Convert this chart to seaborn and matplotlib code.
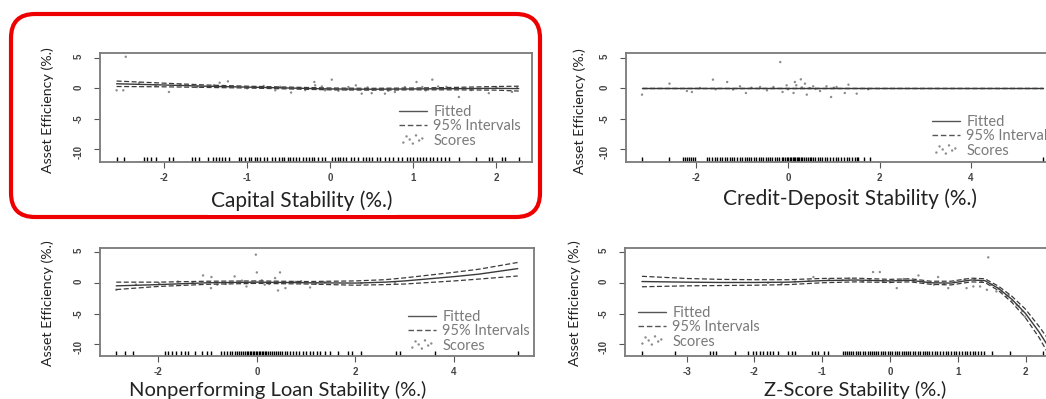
import matplotlib
matplotlib.use("Agg")
import matplotlib.pyplot as plt
import matplotlib.transforms as mtrans
from matplotlib.patches import FancyBboxPatch
from matplotlib.lines import Line2D
import seaborn as sns

# ---- data ----
# Capital Stability
cap_x = [-2.57, -2.0, -1.5, -1.0, -0.5, 0.0, 0.5, 1.0, 1.5, 2.0, 2.27]
cap_fit = [0.75, 0.55, 0.35, 0.2, 0.05, -0.1, -0.15, -0.1, -0.05, 0.0, -0.05]
cap_hi = [1.2, 0.85, 0.55, 0.35, 0.2, 0.05, 0.0, 0.05, 0.15, 0.3, 0.35]
cap_lo = [0.3, 0.25, 0.15, 0.05, -0.1, -0.25, -0.3, -0.25, -0.25, -0.3, -0.45]
cap_sx = [-2.46, -2.57, -2.49, -1.94, -1.33, -1.23, -0.66, -0.47, -0.19, -0.18, 0.02, -0.06,
          0.22, 0.31, 0.38, 0.50, 0.66, 0.78, 1.04, 1.23, 1.11, 1.55, 1.91, 2.19, 1.30,
          -2.3, -2.1, -1.8, -1.6, -1.4, -1.0, -0.8, -0.6, -0.3, -0.1, 0.1, 0.2, 0.45, 0.7,
          0.9, 1.15, 1.4, 1.7, 2.0, 2.25]
cap_sy = [5.2, -0.33, -0.33, -0.6, 0.93, 1.15, -0.33, -0.7, 1.04, 0.49, 1.43, -0.33,
          0.22, 0.49, -0.88, -0.8, -0.88, -0.6, 1.04, 1.43, 0.22, -1.43, -0.8, -0.6, 0.3,
          0.9, 0.4, 0.6, 0.2, 0.5, 0.0, 0.4, 0.25, -0.3, 0.3, -0.4, -0.2, 0.15, -0.4,
          0.2, -0.35, 0.25, -0.3, 0.2, 0.1]
cap_rug = [-2.57, -2.48, -2.24, -2.20, -2.16, -2.09, -1.94, -1.89, -1.66, -1.63, -1.58, -1.47,
           -1.41, -1.37, -1.34, -1.30, -1.27, -1.22, -1.10, -1.07, -1.03, -0.98, -0.95, -0.91,
           -0.88, -0.84, -0.79, -0.76, -0.70, -0.66, -0.62, -0.58, -0.55, -0.51, -0.48, -0.45,
           -0.41, -0.37, -0.33, -0.29, -0.25, -0.22, -0.19, -0.14, -0.10, -0.06, 0.02, 0.06,
           0.09, 0.12, 0.16, 0.19, 0.25, 0.29, 0.34, 0.39, 0.43, 0.47, 0.50, 0.56, 0.60, 0.66,
           0.71, 0.76, 0.82, 0.86, 0.92, 0.96, 1.00, 1.04, 1.08, 1.12, 1.16, 1.20, 1.24, 1.29,
           1.34, 1.38, 1.43, 1.55, 1.75, 1.91, 1.95, 2.07, 2.11, 2.27]

# Credit-Deposit Stability
cd_x = [-3.19, 5.57]
cd_fit = [0.0, 0.0]
cd_hi = [0.0, 0.0]
cd_lo = [0.0, 0.0]
cd_sx = [-3.19, -2.59, -1.64, -1.33, -0.17, 0.28, 0.15, 0.37, 0.94, 1.32, 1.50, -0.92, -2.21,
         -2.10, -0.12, 0.12, 0.41, 0.70, 1.24, 1.75, -1.05, -0.61, -0.32, -0.03, 0.18, 0.55,
         0.84, 1.06, -1.92, -1.58, -0.46, 0.47, -1.2, -0.8, 0.0, 0.3, 0.6, 1.0]
cd_sy = [-1.04, 0.77, 1.43, 1.04, 4.33, 1.48, 1.04, 0.77, -1.43, 0.6, -0.88, -0.77, -0.44,
         -0.6, -0.6, -0.77, -1.04, -0.44, -0.77, -0.16, 0.33, 0.22, 0.22, 0.49, 0.5, 0.33,
         0.33, 0.22, 0.05, -0.16, -0.33, 0.05, -0.2, 0.1, -0.15, 0.15, -0.1, 0.1]
cd_rug = [-3.19, -2.60, -2.30, -2.26, -2.21, -2.17, -2.12, -2.08, -2.03, -1.78, -1.72, -1.66,
          -1.60, -1.55, -1.49, -1.44, -1.38, -1.33, -1.27, -1.22, -1.17, -1.11, -1.06, -1.00,
          -0.95, -0.90, -0.85, -0.80, -0.75, -0.70, -0.64, -0.59, -0.54, -0.49, -0.44, -0.39,
          -0.34, -0.29, -0.24, -0.19, -0.14, -0.10, -0.06, -0.02, 0.01, 0.04, 0.07, 0.10, 0.13,
          0.16, 0.19, 0.22, 0.25, 0.28, 0.31, 0.35, 0.39, 0.43, 0.47, 0.51, 0.55, 0.60, 0.65,
          0.70, 0.75, 0.80, 0.86, 0.92, 0.98, 1.04, 1.10, 1.16, 1.22, 1.28, 1.34, 1.40, 1.46,
          1.50, 1.53, 1.66, 1.79, 5.57]

# Nonperforming Loan Stability
npl_x = [-2.85, -2.0, -1.0, 0.0, 1.0, 2.0, 2.6, 3.0, 3.5, 4.0, 4.5, 5.29]
npl_fit = [-0.5, -0.3, 0.0, 0.1, 0.0, -0.05, 0.1, 0.3, 0.65, 1.0, 1.4, 2.3]
npl_hi = [0.1, 0.1, 0.25, 0.3, 0.2, 0.3, 0.5, 0.8, 1.25, 1.7, 2.2, 3.3]
npl_lo = [-1.1, -0.6, -0.25, -0.1, -0.2, -0.4, -0.3, -0.2, 0.05, 0.3, 0.6, 1.1]
npl_sx = [-0.02, 0.0, -1.09, -0.92, -0.45, 0.47, 0.37, -0.93, -0.21, 0.43, 0.58, 1.08, -2.85,
          0.1, -0.12, 0.16, -0.63, 0.78, -1.3, -1.98, -2.45, 1.38, 2.12, 2.8, -1.6, -0.8,
          -0.3, 0.25, 0.9, 1.2]
npl_sy = [4.57, 1.68, 1.19, 0.93, 1.03, 1.68, 0.76, -0.87, -0.6, -1.25, -0.87, -0.76, -1.14,
          0.4, 0.0, -0.3, -0.2, 0.15, 0.0, -0.1, -0.3, 0.1, -0.1, 0.0, 0.2, -0.3, 0.35,
          -0.2, 0.25, -0.15]
npl_rug = [-2.85, -2.68, -2.51, -1.87, -1.80, -1.73, -1.63, -1.53, -1.46, -1.39, -1.26, -1.12,
           -1.02, -0.92, -0.72, -0.66, -0.60, -0.55, -0.50, -0.45, -0.40, -0.36, -0.32, -0.28,
           -0.24, -0.20, -0.17, -0.14, -0.11, -0.08, -0.05, -0.02, 0.01, 0.04, 0.07, 0.10,
           0.13, 0.16, 0.19, 0.23, 0.27, 0.31, 0.35, 0.39, 0.43, 0.47, 0.52, 0.57, 0.62, 0.68,
           0.74, 0.80, 0.86, 0.93, 1.00, 1.07, 1.14, 1.21, 1.28, 1.38, 1.48, 1.65, 1.85, 1.92,
           2.12, 2.83, 2.90, 3.61, 5.30]

# Z-Score Stability
zs_x = [-3.66, -3.0, -2.5, -2.0, -1.5, -1.0, -0.5, 0.0, 0.3, 0.6, 0.9, 1.2, 1.4, 1.6, 1.8,
        2.0, 2.2, 2.35]
zs_fit = [0.2, 0.1, 0.05, 0.05, 0.1, 0.35, 0.45, 0.3, 0.4, 0.0, -0.05, 0.45, 0.35, -0.9,
          -2.7, -5.0, -8.0, -10.6]
zs_hi = [1.05, 0.7, 0.55, 0.5, 0.5, 0.7, 0.75, 0.55, 0.65, 0.25, 0.25, 0.75, 0.65, -0.55,
         -2.2, -4.3, -7.1, -9.4]
zs_lo = [-0.65, -0.5, -0.45, -0.4, -0.3, 0.0, 0.15, 0.05, 0.15, -0.25, -0.35, 0.15, 0.05,
         -1.25, -3.2, -5.7, -8.9, -11.8]
zs_sx = [1.45, -0.25, -0.15, -1.13, 0.42, 0.71, 0.10, 0.86, 1.13, 1.23, 1.33, 1.43, 1.57,
         1.72, 1.87, 1.99, -1.8, -1.6, -1.4, -1.2, -0.9, -0.7, -0.6, -0.4, -0.3, -0.1, 0.0,
         0.2, 0.35, 0.5, 0.65, 0.8, 0.95, 1.1, 1.25, 1.35, 1.5, 1.6, 1.65, 1.75, 1.8, 1.9, 1.95]
zs_sy = [4.13, 1.74, 1.74, 0.93, 1.19, 0.93, -0.87, -0.87, -0.87, -0.6, -0.6, -1.14, -1.4,
         -2.2, -3.6, -5.5, 0.0, -0.2, 0.2, 0.3, 0.6, 0.4, 0.7, 0.2, 0.5, 0.3, 0.1, 0.6, 0.3,
         0.1, -0.3, -0.2, 0.1, 0.5, 0.6, 0.2, -0.3, -1.0, -1.4, -2.0, -2.9, -3.8, -4.6]
zs_rug = [-3.66, -3.17, -2.65, -2.61, -2.56, -2.29, -2.09, -2.02, -1.97, -1.92, -1.87, -1.82,
          -1.77, -1.72, -1.65, -1.50, -1.45, -1.40, -1.15, -1.11, -1.06, -0.97, -0.91, -0.69,
          -0.66, -0.63, -0.60, -0.57, -0.54, -0.50, -0.47, -0.44, -0.40, -0.37, -0.33, -0.30,
          -0.27, -0.23, -0.20, -0.17, -0.13, -0.10, -0.07, -0.03, 0.00, 0.03, 0.07, 0.10, 0.13,
          0.17, 0.20, 0.23, 0.27, 0.30, 0.34, 0.37, 0.41, 0.44, 0.48, 0.51, 0.55, 0.58, 0.62,
          0.66, 0.70, 0.74, 0.78, 0.82, 0.86, 0.90, 0.94, 0.98, 1.02, 1.06, 1.10, 1.14, 1.18,
          1.22, 1.26, 1.30, 1.34, 1.38, 1.50, 1.77, 2.26]

y_ticks = [-10, -5, 0, 5]
legend_labels = ["Fitted", "95% Intervals", "Scores"]
y_label = "Asset Efficiency (%.)"

sns.set_theme(style="white")
plt.rcParams["font.family"] = ["Lato", "DejaVu Sans"]
plt.rcParams["axes.unicode_minus"] = False

W, H = 1046, 399
fig = plt.figure(figsize=(W / 100, H / 100), dpi=100)

# panel boxes in pixels: left, top, right, bottom; xl = label centre x, baseline y
panels = [
    dict(box=(100, 53, 532, 162), xlim=(-2.77, 2.43), ylim=(-12.14, 5.82),
         xticks=[-2, -1, 0, 1, 2], x=cap_x, fit=cap_fit, hi=cap_hi, lo=cap_lo,
         sx=cap_sx, sy=cap_sy, rug=cap_rug, xlabel="Capital Stability (%.)",
         xl=(302, 207), xfs=15, yl=(48, 110), leg=(399, 105)),
    dict(box=(626, 53, 1059, 162), xlim=(-3.54, 5.92), ylim=(-12.14, 5.82),
         xticks=[-2, 0, 2, 4], x=cd_x, fit=cd_fit, hi=cd_hi, lo=cd_lo,
         sx=cd_sx, sy=cd_sy, rug=cd_rug, xlabel="Credit-Deposit Stability (%.)",
         xl=(850, 205), xfs=15, yl=(580, 111), leg=(932, 115)),
    dict(box=(100, 248, 534, 356), xlim=(-3.18, 5.62), ylim=(-11.9, 5.65),
         xticks=[-2, 0, 2, 4], x=npl_x, fit=npl_fit, hi=npl_hi, lo=npl_lo,
         sx=npl_sx, sy=npl_sy, rug=npl_rug, xlabel="Nonperforming Loan Stability (%.)",
         xl=(278, 396), xfs=14.5, yl=(48, 303), leg=(408, 310)),
    dict(box=(625, 248, 1075, 356), xlim=(-3.91, 2.73), ylim=(-11.9, 5.65),
         xticks=[-3, -2, -1, 0, 1, 2], x=zs_x, fit=zs_fit, hi=zs_hi, lo=zs_lo,
         sx=zs_sx, sy=zs_sy, rug=zs_rug, xlabel="Z-Score Stability (%.)",
         xl=(855, 396), xfs=14.5, yl=(575, 303), leg=(638, 306)),
]

line_col = "#3a3a3a"
dash = (0, (4, 2))

for i, p in enumerate(panels):
    l, t, r, b = p["box"]
    ax = fig.add_axes([l / W, 1 - b / H, (r - l) / W, (b - t) / H])
    ax.set_xlim(*p["xlim"])
    ax.set_ylim(*p["ylim"])

    sns.scatterplot(x=p["sx"], y=p["sy"], ax=ax, s=3, color="#8c8c8c",
                    edgecolor="none", zorder=2)
    score_handle = ax.collections[-1]
    sns.lineplot(x=p["x"], y=p["hi"], ax=ax, estimator=None, color=line_col,
                 lw=0.9, linestyle=dash, zorder=3)
    sns.lineplot(x=p["x"], y=p["lo"], ax=ax, estimator=None, color=line_col,
                 lw=0.9, linestyle=dash, zorder=3)
    sns.lineplot(x=p["x"], y=p["fit"], ax=ax, estimator=None, color=line_col,
                 lw=1.0, zorder=4)
    sns.rugplot(x=p["rug"], ax=ax, height=0.045, color="black", lw=0.9)

    ax.set_xticks(p["xticks"])
    ax.set_xticklabels([str(v) for v in p["xticks"]])
    ax.set_yticks(y_ticks)
    ax.set_yticklabels([str(v) for v in y_ticks])
    ax.tick_params(axis="both", which="major", length=4, width=0.8, color="#555",
                   labelsize=7, labelcolor="#444", bottom=True, left=True)
    ax.tick_params(axis="x", pad=4)
    ax.tick_params(axis="y", labelrotation=90, pad=8)
    for lab in ax.get_xticklabels() + ax.get_yticklabels():
        lab.set_fontweight("bold")
        lab.set_family(["Liberation Sans", "DejaVu Sans"])
    for sp in ax.spines.values():
        sp.set_color("#7a7a7a")
        sp.set_linewidth(1.3)
    ax.set_xlabel("")
    ax.set_ylabel("")

    handles = [Line2D([], [], color="#555", lw=1.0),
               Line2D([], [], color="#555", lw=1.0, linestyle=dash),
               score_handle]
    lx, ly = p["leg"]
    ax.legend(handles=handles, labels=legend_labels, loc="upper left",
              bbox_to_anchor=(lx / W, 1 - ly / H), bbox_transform=fig.transFigure,
              frameon=False, fontsize=10.5, labelcolor="#7a7a7a", borderpad=0,
              borderaxespad=0, handlelength=1.9, handletextpad=0.45, labelspacing=0.02,
              scatterpoints=7, scatteryoffsets=[0.2, 0.8, 0.5, 0.1, 0.9, 0.4, 0.6])

    xx, xy = p["xl"]
    box = dict(facecolor="white", edgecolor="none", pad=2.5) if i == 0 else None
    fig.text(xx / W, 1 - xy / H, p["xlabel"], ha="center", va="baseline",
             fontsize=p["xfs"], color="#222", zorder=10, bbox=box)
    yx, yy = p["yl"]
    fig.text(yx / W, 1 - yy / H, y_label, ha="center", va="center", rotation=90,
             fontsize=10.3, color="#222")

# red rounded frame around the first panel (pixel coords, y from bottom)
frame = FancyBboxPatch((11, H - 217), 529, 203, boxstyle="round,pad=0,rounding_size=24",
                       linewidth=3.0, edgecolor="#ee0000", facecolor="none",
                       transform=mtrans.IdentityTransform(), zorder=5)
fig.add_artist(frame)

fig.savefig("out.png", dpi=100)
